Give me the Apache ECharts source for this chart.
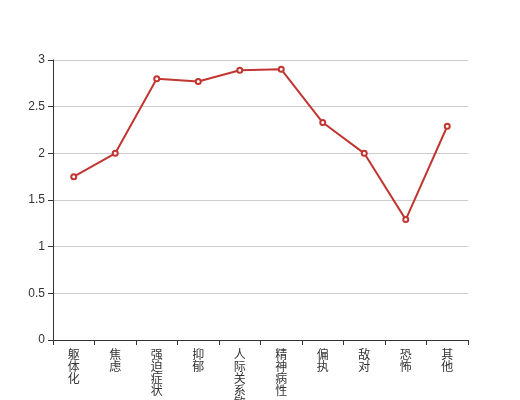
<!DOCTYPE html>
<html><head><meta charset="utf-8">
<script src="https://cdn.jsdelivr.net/npm/echarts@6/dist/echarts.min.js"></script>
<style>html,body{margin:0;padding:0;background:#fff}#c{width:520px;height:400px}</style>
</head><body><div id="c"></div>
<script>
var categories = ['躯体化','焦虑','强迫症状','抑郁','人际关系敏感','精神病性','偏执','敌对','恐怖','其他'];
var values = [1.75, 2.0, 2.8, 2.77, 2.89, 2.9, 2.33, 2.0, 1.29, 2.29];
var chart = echarts.init(document.getElementById('c'));
chart.setOption({
  animation: false,
  grid: {left: 53, right: 52, top: 60, bottom: 60, containLabel: false, outerBoundsMode: 'none'},
  xAxis: {
    type: 'category', data: categories, boundaryGap: true,
    axisLine: {lineStyle: {color: '#333'}},
    axisTick: {show: true, lineStyle: {color: '#333'}},
    axisLabel: {color: '#333', fontSize: 12, interval: 0, lineHeight: 12,
      fontFamily: 'Noto Sans CJK SC',
      formatter: function (v) { return v.split('').join('\n'); }}
  },
  yAxis: {
    type: 'value', min: 0, max: 3, interval: 0.5,
    axisLine: {show: true, lineStyle: {color: '#333'}},
    axisTick: {show: true, lineStyle: {color: '#333'}},
    axisLabel: {color: '#333', fontSize: 12},
    splitLine: {lineStyle: {color: '#ccc'}}
  },
  series: [{
    type: 'line', data: values,
    symbol: 'emptyCircle', symbolSize: 5,
    lineStyle: {color: '#c23531', width: 2},
    itemStyle: {color: '#c23531', borderWidth: 1}
  }]
});
</script></body></html>
